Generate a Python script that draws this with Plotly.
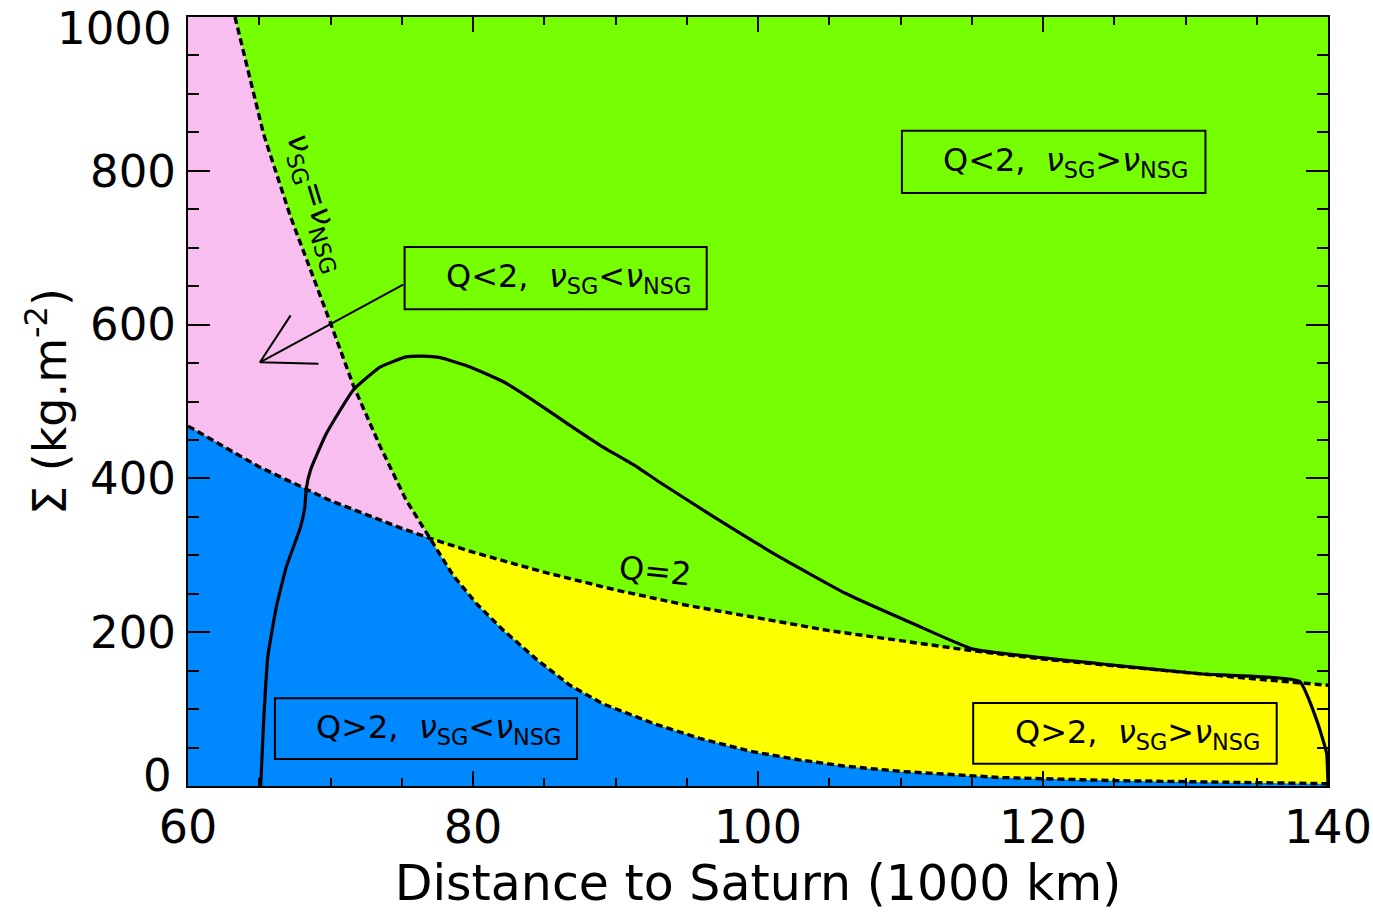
import plotly.graph_objects as go

# ---------------- data ----------------
# Q = 2 boundary (dashed)
x_q2 = [60, 65, 70, 75, 77, 80, 85, 90, 95, 100, 105, 110, 115, 120, 125, 130, 135, 140]
sig_q2 = [468, 415, 371, 335, 322, 304, 278, 255, 235, 218, 202, 189, 176, 165, 156, 147, 139, 131]

# nu_SG = nu_NSG boundary (dashed)
x_nu = [63.3, 65.3, 67.2, 68.8, 70.0, 71.6, 73.5, 75.3, 77.0, 78.6, 80.3, 82.1, 84.5, 86.8,
        89.1, 92.7, 95.9, 99.5, 102.9, 106.0, 110.0, 117.0, 125.0, 132.0, 140.0]
sig_nu = [1000, 848, 740, 662, 602, 521, 441, 372, 322, 274, 236, 203, 164, 131,
          107, 81, 62, 45, 34, 26, 19, 11, 7, 5, 3]

# solid curve (ring surface density profile)
x_sol = [65.1, 65.3, 65.6, 66.2, 66.9, 67.9, 68.2, 68.3, 68.6, 69.7, 71.6, 73.5, 75.3, 76.5,
         77.7, 79.8, 82.1, 84.5, 86.8, 89.1, 91.5, 93.1, 96.9, 101.5, 106.2, 110.9, 115.1,
         124.0, 131.0, 138.0, 139.2, 139.9, 140.0]
sig_sol = [0, 81, 168, 233, 285, 337, 363, 387, 411, 458, 515, 545, 558, 559,
           557, 545, 526, 498, 469, 441, 415, 395, 350, 298, 250, 211, 178,
           159, 146, 136, 86, 43, 0]

# axis ranges / ticks
x_range = [60, 140]
y_range = [0, 1000]
x_ticks = [60, 80, 100, 120, 140]
y_ticks = [0, 200, 400, 600, 800, 1000]

# labelled boxes: (x0, x1, y0, y1), text centre, text
box_x0 = [110.1, 75.2, 66.1, 115.1]
box_x1 = [131.4, 96.4, 87.3, 136.4]
box_y0 = [771, 620, 35, 29]
box_y1 = [852, 701, 114, 108]
box_tx = [121.6, 86.7, 77.6, 126.6]
box_ty = [811, 661, 74, 68]
box_text = ["Q<2,  <i>ν</i><sub>SG</sub>><i>ν</i><sub>NSG</sub>",
            "Q<2,  <i>ν</i><sub>SG</sub><<i>ν</i><sub>NSG</sub>",
            "Q>2,  <i>ν</i><sub>SG</sub><<i>ν</i><sub>NSG</sub>",
            "Q>2,  <i>ν</i><sub>SG</sub>><i>ν</i><sub>NSG</sub>"]

# arrow (tail, tip, two head ends)
arrow_x = [75.1, 65.05, 67.2, 65.05, 69.15]
arrow_y = [652, 551, 612, 551, 549]

# ------------------------------------------------------------
GREEN = "#76FF03"
PINK = "#F9BEF0"
BLUE = "#0088FF"
YELLOW = "#FFFF00"

i_nu77 = x_nu.index(77.0)
i_q77 = x_q2.index(77)

fig = go.Figure()

# pink region: left of nu curve, above Q=2
px_ = x_nu[:i_nu77 + 1] + x_q2[:i_q77 + 1][::-1] + [x_range[0]]
py_ = sig_nu[:i_nu77 + 1] + sig_q2[:i_q77 + 1][::-1] + [y_range[1]]
fig.add_trace(go.Scatter(x=px_, y=py_, fill="toself", fillcolor=PINK, mode="none",
                         hoverinfo="skip"))

# blue region: below Q=2 (x<77) and below nu curve (x>77)
bx = [x_range[0]] + x_q2[:i_q77 + 1] + x_nu[i_nu77:] + [x_range[1]]
by = [y_range[0]] + sig_q2[:i_q77 + 1] + sig_nu[i_nu77:] + [y_range[0]]
fig.add_trace(go.Scatter(x=bx, y=by, fill="toself", fillcolor=BLUE, mode="none",
                         hoverinfo="skip"))

# yellow region: between nu curve and Q=2 (x>77)
yx = x_q2[i_q77:] + x_nu[i_nu77:][::-1]
yy = sig_q2[i_q77:] + sig_nu[i_nu77:][::-1]
fig.add_trace(go.Scatter(x=yx, y=yy, fill="toself", fillcolor=YELLOW, mode="none",
                         hoverinfo="skip"))

# dashed boundaries
dash_style = dict(color="black", width=3.4, dash="7px,4px")
fig.add_trace(go.Scatter(x=x_q2, y=sig_q2, mode="lines", line=dash_style))
fig.add_trace(go.Scatter(x=x_nu, y=sig_nu, mode="lines", line=dash_style))

# solid profile
fig.add_trace(go.Scatter(x=x_sol, y=sig_sol, mode="lines",
                         line=dict(color="black", width=3.2, shape="spline", smoothing=0.4)))

# arrow
fig.add_trace(go.Scatter(x=arrow_x[:2], y=arrow_y[:2], mode="lines",
                         line=dict(color="black", width=2)))
fig.add_trace(go.Scatter(x=arrow_x[2:], y=arrow_y[2:], mode="lines",
                         line=dict(color="black", width=2)))

FONT = "DejaVu Sans"

shapes = []
annotations = []
for x0, x1, y0, y1, tx, ty, t in zip(box_x0, box_x1, box_y0, box_y1, box_tx, box_ty, box_text):
    shapes.append(dict(type="rect", xref="x", yref="y", x0=x0, x1=x1, y0=y0, y1=y1,
                       line=dict(color="black", width=2), fillcolor="rgba(0,0,0,0)"))
    annotations.append(dict(x=tx, y=ty, xref="x", yref="y", text=t, showarrow=False,
                            font=dict(family=FONT, size=32, color="black"),
                            xanchor="center", yanchor="middle"))

annotations.append(dict(x=92.8, y=279, xref="x", yref="y", text="Q=2", showarrow=False,
                        textangle=6, font=dict(family=FONT, size=32, color="black")))
annotations.append(dict(x=69.0, y=758, xref="x", yref="y",
                        text="<i>ν</i><sub>SG</sub>=<i>ν</i><sub>NSG</sub>", showarrow=False,
                        textangle=73, font=dict(family=FONT, size=32, color="black")))

# end labels of the y axis sit slightly inside the axis ends, as in the reference
for v, shift in ((y_ticks[0], 11), (y_ticks[-1], -11)):
    annotations.append(dict(x=0, xref="paper", y=v, yref="y", text=str(v), showarrow=False,
                            xanchor="right", yanchor="middle", xshift=-14, yshift=shift,
                            font=dict(family=FONT, size=45, color="black")))

fig.update_layout(
    width=1373, height=917,
    margin=dict(l=188, r=45, t=17, b=131, autoexpand=False),
    paper_bgcolor="white", plot_bgcolor=GREEN,
    showlegend=False,
    shapes=shapes, annotations=annotations,
    font=dict(family=FONT, color="black"),
)

fig.update_xaxes(
    range=x_range, tickvals=x_ticks, ticktext=[str(v) for v in x_ticks],
    showgrid=False, zeroline=False,
    showline=True, linecolor="black", linewidth=2, mirror="ticks",
    ticks="inside", ticklen=15, tickwidth=2, tickcolor="black",
    minor=dict(dtick=5, tick0=60, ticks="inside", ticklen=8, tickwidth=2, tickcolor="black",
               showgrid=False),
    tickfont=dict(family=FONT, size=46),
    ticklabeloverflow="allow",
    title=dict(text="Distance to Saturn (1000 km)", font=dict(family=FONT, size=49),
               standoff=12),
)
fig.update_yaxes(
    range=y_range, tickvals=y_ticks[1:-1], ticktext=[str(v) for v in y_ticks[1:-1]],
    showgrid=False, zeroline=False,
    showline=True, linecolor="black", linewidth=2, mirror="ticks",
    ticks="inside", ticklen=22, tickwidth=2, tickcolor="black",
    minor=dict(dtick=50, tick0=0, ticks="inside", ticklen=11, tickwidth=2, tickcolor="black",
               showgrid=False),
    tickfont=dict(family=FONT, size=45),
    ticklabeloverflow="allow",
    ticklabelstandoff=1,
    title=dict(text="Σ (kg.m<sup>-2</sup>)", font=dict(family=FONT, size=46), standoff=9),
)

# remove the default 8px page margin so the 1373x917 figure fills the window exactly
fig.write_html("out.html", config={"displayModeBar": False},
               post_script="document.body.style.margin='0';")
